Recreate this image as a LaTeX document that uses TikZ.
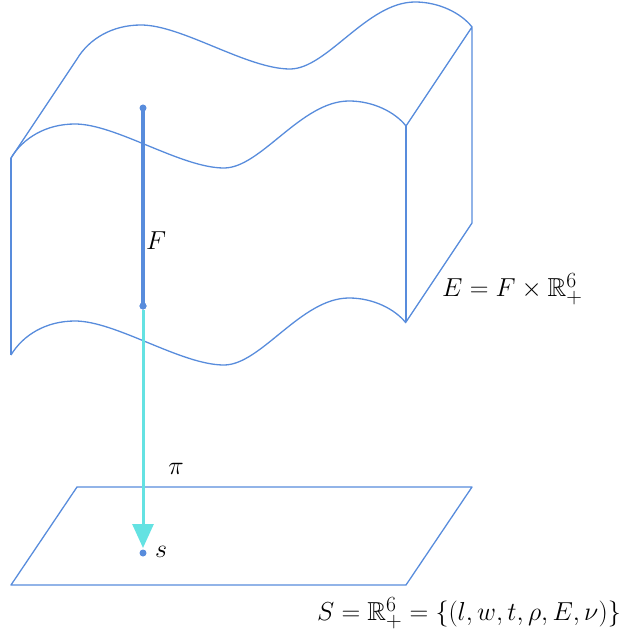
\documentclass[tikz,border=0pt]{standalone}
\usepackage{amssymb}
\usepackage{graphicx}
\usetikzlibrary{arrows.meta}
\definecolor{edgeblue}{RGB}{88,140,220}
\definecolor{projcyan}{RGB}{100,226,226}
\newcommand{\biglbl}[1]{\scalebox{1.045}{#1}}
\tikzset{
  wire/.style={edgeblue,line width=1.3pt,line join=round},
  fiberline/.style={edgeblue,line width=3.2pt},
  projline/.style={projcyan,line width=3pt,-{Triangle[width=21pt,length=24pt]}},
  dotmark/.style={circle,fill=edgeblue,inner sep=0pt,minimum size=7pt},
  lbl/.style={font=\fontsize{24.88}{30}\selectfont,inner sep=2pt},
  wave/.pic={\draw[wire] (0,0) .. controls (12,-20) and (35,-34) .. (64,-34)
      .. controls (105,-34) and (170,10) .. (213,10)
      .. controls (250,10) and (290,-57) .. (338,-57)
      .. controls (362,-57) and (384,-46) .. (395,-32);}
}
\begin{document}
\begin{tikzpicture}[x=1pt,y=-1pt]
\useasboundingbox (0,0) rectangle (623,639);
% corners of the total space
\coordinate (ftl) at (11,158);
\coordinate (fbl) at (11,355);
\coordinate (ftr) at (406,126);
\coordinate (fbr) at (406,322);
\coordinate (btl) at (77,59);
\coordinate (btr) at (472,27);
\coordinate (bbr) at (472,223);
% wavy surfaces
\pic at (ftl) {wave};
\pic at (fbl) {wave};
\pic at (btl) {wave};
\draw[wire] (ftl) -- (fbl);
\draw[wire] (ftr) -- (fbr);
\draw[wire] (ftl) -- (btl);
\draw[wire] (ftr) -- (btr) -- (bbr) -- (fbr);
% base space
\coordinate (b1) at (77,487);
\coordinate (b2) at (472,487);
\coordinate (b3) at (406,585);
\coordinate (b4) at (11,585);
\draw[wire] (b1) -- (b2) -- (b3) -- (b4) -- cycle;
% fiber
\node[dotmark] (ftop) at (143,108) {};
\node[dotmark] (fbot) at (143,306) {};
\draw[fiberline] (ftop.center) -- (fbot.center);
% projection
\node[dotmark] (s) at (143,553) {};
\coordinate (tip) at (143,548);
\draw[projline] (fbot.south) -- (tip);
\node[dotmark] at (143,306) {};
% labels
\node[lbl,anchor=west] (Flab) at (144,241) {\biglbl{$F$}};
\node[lbl] (pilab) at (176,469) {\biglbl{$\pi$}};
\node[lbl,anchor=west] (slab) at (153,552) {\biglbl{$s$}};
\node[lbl,anchor=west] (Elab) at (440,289) {\biglbl{$E=F\times\mathbb{R}^6_+$}};
\node[lbl] (Slab) at (469,613) {\biglbl{$S=\mathbb{R}^6_+=\{(l,w,t,\rho,E,\nu)\}$}};
\end{tikzpicture}
\end{document}
